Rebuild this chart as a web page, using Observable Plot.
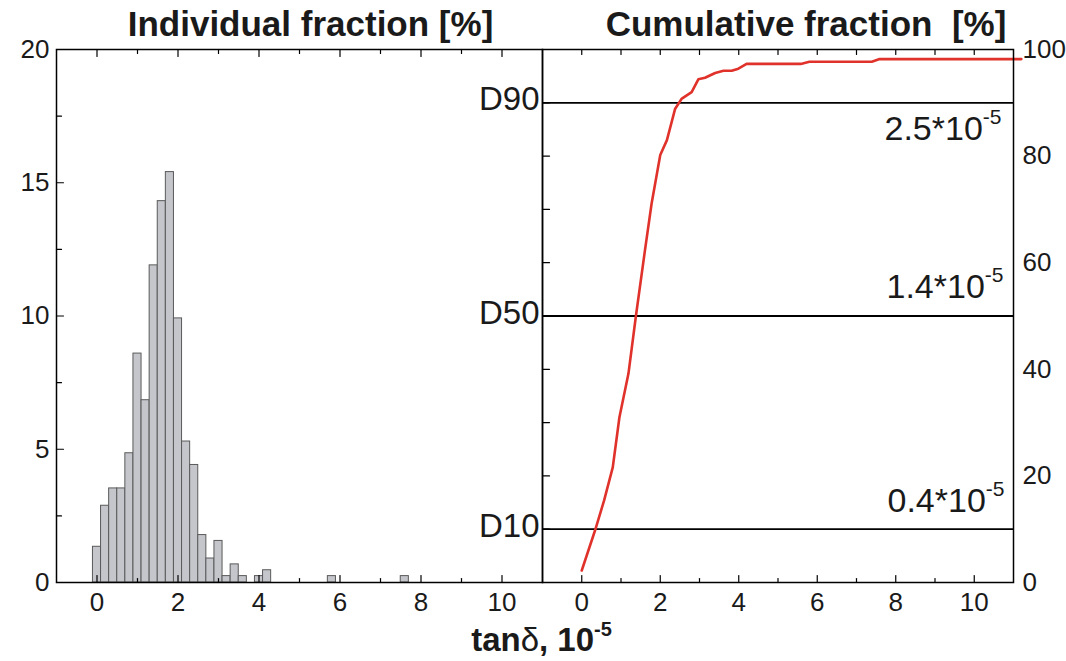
<!DOCTYPE html>
<html>
<head>
<meta charset="utf-8">
<script src="https://cdn.jsdelivr.net/npm/d3@7"></script>
<script src="https://cdn.jsdelivr.net/npm/@observablehq/plot@0.6"></script>
<style>
html, body { margin: 0; padding: 0; background: #fff; }
#chart { position: relative; width: 1066px; height: 661px; }
#chart svg { position: absolute; left: 0; top: 0; }
</style>
</head>
<body>
<div id="chart"></div>
<script>
// ---- data ----
const binCenters = [0, 0.2, 0.4, 0.6, 0.8, 1.0, 1.2, 1.4, 1.6, 1.8, 2.0, 2.2, 2.4, 2.6, 2.8, 3.0, 3.2, 3.4, 3.6, 4.0, 4.2, 5.8, 7.6];
const binPercents = [1.34, 2.88, 3.53, 3.53, 4.85, 8.59, 6.84, 11.9, 14.31, 15.4, 9.91, 5.29, 4.41, 1.78, 0.9, 1.56, 0.24, 0.68, 0.24, 0.24, 0.46, 0.24, 0.24];
const binWidth = 0.2;

const cumX = [0.0, 0.34, 0.57, 0.79, 0.96, 1.19, 1.38, 1.61, 1.78, 2.0, 2.17, 2.38, 2.55, 2.80, 2.97, 3.14, 3.40, 3.61, 3.82, 3.99, 4.20, 5.58, 5.80, 7.39, 7.59, 11.2];
const cumY = [2.25, 9.8, 15.4, 21.6, 31.0, 39.2, 50.0, 62.3, 71.1, 80.2, 83.0, 88.9, 90.8, 92.0, 94.4, 94.7, 95.6, 96.0, 96.0, 96.4, 97.3, 97.3, 97.7, 97.7, 98.2, 98.2];

const xDomain = [-1, 11];
const xTicksMajor = [0, 2, 4, 6, 8, 10];
const xTicksMinor = [1, 3, 5, 7, 9];
const leftYTicks = [0, 5, 10, 15, 20];
const leftYMinor = [2.5, 7.5, 12.5, 17.5];
const rightYTicks = [0, 20, 40, 60, 80, 100];
const rightYInner = [10, 20, 30, 40, 50, 60, 70, 80, 90];

const levels = [10, 50, 90];
const levelNames = ["D10", "D50", "D90"];
const levelValues = ["0.4*10^-5", "1.4*10^-5", "2.5*10^-5"];

const leftTitle = "Individual fraction [%]";
const rightTitle = "Cumulative fraction\u00a0\u00a0[%]";
const xTitle = "tan|δ|, 10^-5";

// ---- tables ----
const hist = binCenters.map((x, i) => ({x, y: binPercents[i]}));
const cum = cumX.map((x, i) => ({x, y: cumY[i]}));

const FONT = "'Liberation Sans', Arial, Helvetica, sans-serif";
const INK = "#1a1a1a";
const tickShape = {draw(context, l) { context.moveTo(0, 0); context.lineTo(0, -l); }};
const ticks = (data, opts) => Plot.vector(data, {anchor: "start", shape: tickShape, stroke: "black", strokeWidth: 1.2, ...opts});

const common = {
  width: 1066, height: 661,
  marginTop: 49, marginBottom: 79,
  style: {fontFamily: FONT, fontSize: "26px", color: INK, background: "transparent"},
  x: {domain: xDomain},
};

const left = Plot.plot({
  ...common,
  marginLeft: 56, marginRight: 524,
  y: {domain: [0, 20]},
  marks: [
    Plot.rect(hist, {x1: d => d.x - binWidth / 2, x2: d => d.x + binWidth / 2, y1: 0, y2: "y", fill: "#c4c6cb", stroke: "#5a5a5a", strokeWidth: 1}),
    Plot.frame({stroke: "black", strokeWidth: 1.5}),
    ticks(xTicksMajor, {x: d => d, frameAnchor: "bottom", rotate: 0, length: 7}),
    ticks(xTicksMinor, {x: d => d, frameAnchor: "bottom", rotate: 0, length: 4}),
    ticks(xTicksMajor, {x: d => d, frameAnchor: "top", rotate: 180, length: 7}),
    ticks(xTicksMinor, {x: d => d, frameAnchor: "top", rotate: 180, length: 4}),
    ticks(leftYTicks, {y: d => d, frameAnchor: "left", rotate: 90, length: 7}),
    ticks(leftYMinor, {y: d => d, frameAnchor: "left", rotate: 90, length: 5}),
    Plot.axisX(xTicksMajor, {anchor: "bottom", tickSize: 0, tickPadding: 10, fontSize: 26, label: null}),
    Plot.axisY(leftYTicks, {anchor: "left", tickSize: 0, tickPadding: 7, fontSize: 26, label: null}),
    Plot.text([leftTitle], {text: d => d, frameAnchor: "top", lineAnchor: "bottom", dx: 11, dy: -14, fontSize: 35, fontWeight: "bold", fill: INK})
  ]
});

const right = Plot.plot({
  ...common,
  marginLeft: 542, marginRight: 53,
  y: {domain: [0, 100]},
  marks: [
    Plot.ruleY(levels, {stroke: "black", strokeWidth: 1.8}),
    Plot.line(cum, {x: "x", y: "y", stroke: "#e0322b", strokeWidth: 2.6}),
    Plot.frame({stroke: "black", strokeWidth: 1.5}),
    ticks(xTicksMajor, {x: d => d, frameAnchor: "bottom", rotate: 0, length: 7}),
    ticks(xTicksMinor, {x: d => d, frameAnchor: "bottom", rotate: 0, length: 4}),
    ticks(xTicksMajor.concat(xTicksMinor), {x: d => d, frameAnchor: "top", rotate: 180, length: 5}),
    ticks(rightYInner, {y: d => d, frameAnchor: "left", rotate: 90, length: 7}),
    Plot.axisX(xTicksMajor, {anchor: "bottom", tickSize: 0, tickPadding: 10, fontSize: 26, label: null}),
    Plot.axisY(rightYTicks, {anchor: "right", tickSize: 0, tickPadding: 9, fontSize: 26, label: null}),
    Plot.text(levels, {y: d => d, text: (d, i) => levelNames[i], frameAnchor: "left", textAnchor: "end", dx: -3, dy: -3, fontSize: 33, fill: INK}),
    Plot.text([levels[0]], {y: d => d, text: () => levelValues[0], frameAnchor: "right", textAnchor: "end", lineAnchor: "bottom", dx: -9, dy: -17, fontSize: 34, fill: INK}),
    Plot.text([levels[1]], {y: d => d, text: () => levelValues[1], frameAnchor: "right", textAnchor: "end", lineAnchor: "bottom", dx: -10, dy: -18, fontSize: 34, fill: INK}),
    Plot.text([levels[2]], {y: d => d, text: () => levelValues[2], frameAnchor: "right", textAnchor: "end", lineAnchor: "bottom", dx: -12, dy: 37, fontSize: 34, fill: INK}),
    Plot.text([rightTitle], {text: d => d, frameAnchor: "top", lineAnchor: "bottom", dx: 28, dy: -14, fontSize: 35, fontWeight: "bold", fill: INK}),
    Plot.text([xTitle], {text: d => d, frameAnchor: "bottom-left", textAnchor: "middle", lineAnchor: "bottom", dx: -1, dy: 68, fontSize: 33, fontWeight: "bold", fill: INK})
  ]
});

// superscripts / mixed weights, applied to the library's own text elements
function rich(textNode, supSize, supShift) {
  const raw = textNode.textContent;
  const sel = d3.select(textNode);
  sel.text(null);
  const [main, sup] = raw.split("^");
  main.split("|").forEach((part, i) => {
    const t = sel.append("tspan").text(part);
    if (i === 1) t.attr("font-weight", "normal");
  });
  if (sup !== undefined) {
    sel.append("tspan").attr("dy", -supShift).attr("font-size", supSize).text(sup);
  }
}
d3.select(right).selectAll("text").each(function() {
  const s = this.textContent;
  if (s.includes("|")) rich(this, 20, 15);
  else if (s.includes("^")) rich(this, 21, 16);
});

const chart = document.getElementById("chart");
chart.appendChild(left);
chart.appendChild(right);
</script>
</body>
</html>
